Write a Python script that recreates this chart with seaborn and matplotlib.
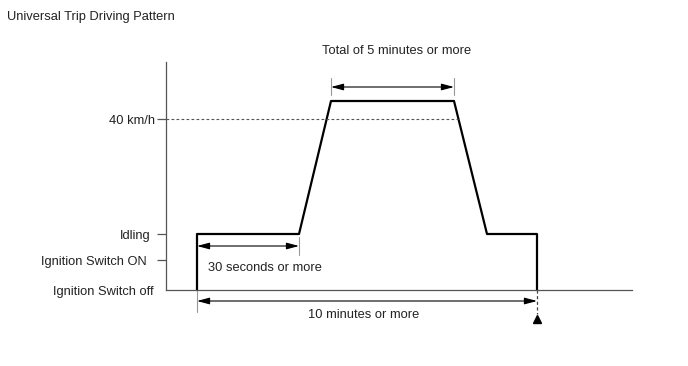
import numpy as np
import pandas as pd
import matplotlib
matplotlib.use("Agg")
import matplotlib.pyplot as plt
import seaborn as sns

# ---- data (diagram units: x = time units, y = level units) ----
profile_t = [31, 31, 133, 165, 288, 321, 371, 371]
profile_v = [0, 56, 56, 189, 189, 56, 56, 0]
level_values = [0, 30, 56, 171]
level_labels = ["Ignition Switch off", "Ignition Switch ON", "Idling", "40 km/h"]
title_text = "Universal Trip Driving Pattern"
ann_5min = "Total of 5 minutes or more"
ann_30s = "30 seconds or more"
ann_10min = "10 minutes or more"

sns.set_style("white")
plt.rcParams["font.family"] = ["Liberation Sans", "DejaVu Sans"]

FS = 9.3
W, H = 688, 366
fig = plt.figure(figsize=(W / 100, H / 100), dpi=100)
ax = fig.add_axes([166 / W, (H - 290) / H, (632 - 166) / W, (290 - 62) / H])
ax.set_xlim(0, 466)
ax.set_ylim(0, 228)

df = pd.DataFrame({"t": profile_t, "v": profile_v})
sns.lineplot(data=df, x="t", y="v", sort=False, estimator=None, color="black",
             lw=1.6, ax=ax, clip_on=False)
ax.set_xlabel("")
ax.set_ylabel("")

# spines
for s in ["top", "right"]:
    ax.spines[s].set_visible(False)
for s in ["left", "bottom"]:
    ax.spines[s].set_color("#555555")
    ax.spines[s].set_linewidth(0.9)

ax.set_xticks([])
ax.set_yticks(level_values)
ax.set_yticklabels(level_labels, fontsize=FS, color="#222222")
ax.tick_params(axis="y", length=6.5, width=0.9, color="#555555", left=True)
pads = [2.2, 7.2, 5.0, 1.5]
for tk, p in zip(ax.yaxis.get_major_ticks(), pads):
    tk.set_pad(p)
ax.yaxis.get_major_ticks()[0].tick1line.set_visible(False)

# 40 km/h dashed reference line up to the descending ramp
v40 = level_values[3]
x40 = profile_t[4] + (profile_t[5] - profile_t[4]) * (profile_v[4] - v40) / (profile_v[4] - profile_v[5])
ax.plot([0, x40], [v40, v40], ls=(0, (2.5, 2)), color="#555555", lw=0.8)

arrow_kw = dict(arrowstyle="<|-|>,head_length=0.75,head_width=0.2",
                color="black", lw=0.8, mutation_scale=10,
                shrinkA=0, shrinkB=0)
ext_kw = dict(color="#999999", lw=0.8, clip_on=False)

# 5 minutes arrow
y5 = 203
ax.plot([profile_t[3]] * 2, [195, 212], **ext_kw)
ax.plot([profile_t[4]] * 2, [195, 212], **ext_kw)
ax.annotate("", xy=(profile_t[4], y5), xytext=(profile_t[3], y5),
            arrowprops=arrow_kw, annotation_clip=False)
ax.text((profile_t[3] + profile_t[4]) / 2 + 4, 239, ann_5min, ha="center",
        va="center", fontsize=FS, color="#222222")

# 30 seconds arrow
y30 = 44
ax.plot([profile_t[2]] * 2, [35, 53], **ext_kw)
ax.annotate("", xy=(profile_t[2], y30), xytext=(profile_t[1], y30),
            arrowprops=arrow_kw, annotation_clip=False)
ax.text(profile_t[1] + 11, 22, ann_30s, ha="left", va="center",
        fontsize=FS, color="#222222")

# 10 minutes arrow
y10 = -11
ax.plot([profile_t[0]] * 2, [0, -22], **ext_kw)
ax.plot([profile_t[-1]] * 2, [0, -24], ls=(0, (2.5, 2)), color="#444444",
        lw=0.9, clip_on=False)
ax.annotate("", xy=(profile_t[-1], y10), xytext=(profile_t[0], y10),
            arrowprops=arrow_kw, annotation_clip=False)
ax.text((profile_t[0] + profile_t[-1]) / 2 - 3, -25, ann_10min, ha="center",
        va="center", fontsize=FS, color="#222222")
ax.plot([profile_t[-1]], [-29], marker="^", color="black", ms=6,
        clip_on=False)

fig.text(7 / W, 1 - 17 / H, title_text, ha="left", va="center",
         fontsize=FS, color="#222222")

fig.savefig("out.png", dpi=100, facecolor="white")
